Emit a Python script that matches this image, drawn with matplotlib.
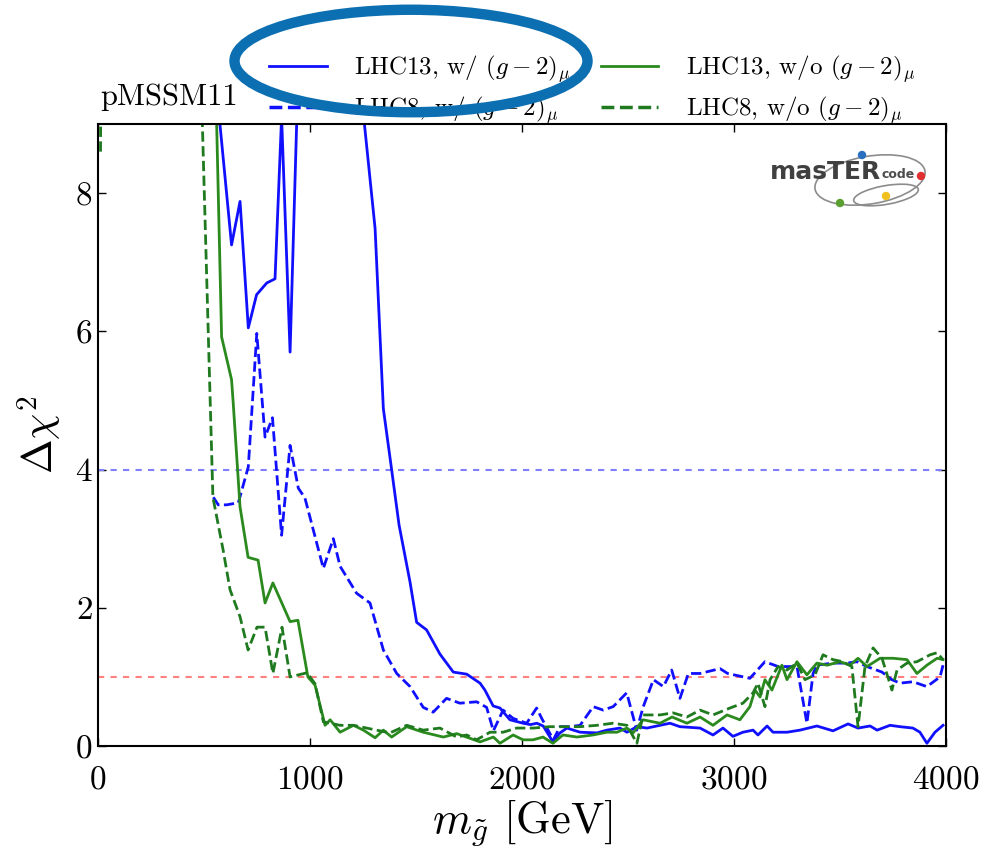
import matplotlib
matplotlib.use("Agg")
import matplotlib.pyplot as plt
from matplotlib.lines import Line2D
from matplotlib.patches import Ellipse

plt.rcParams.update({
    "font.family": "serif",
    "font.serif": ["cmr10", "DejaVu Serif"],
    "mathtext.fontset": "cm",
    "axes.formatter.use_mathtext": True,
    "axes.unicode_minus": False,
})

# gluino mass [GeV] and Delta chi^2 for each scan
mass_13_g2 = [520, 560, 630, 670, 709, 748, 796, 835, 866, 906, 937, 960, 1100, 1230,
              1307, 1346, 1385, 1420, 1472, 1503, 1550, 1613, 1676, 1739, 1802, 1825,
              1864, 1896, 1943, 2005, 2040, 2070, 2100, 2146, 2179, 2212, 2274, 2354,
              2400, 2462, 2495, 2542, 2590, 2651, 2698, 2745, 2840, 2901, 2948, 2995,
              3042, 3090, 3113, 3156, 3184, 3250, 3311, 3391, 3467, 3538, 3585, 3642,
              3675, 3736, 3783, 3844, 3877, 3910, 3948, 3986]
chi2_13_g2 = [25, 9.48, 7.25, 7.88, 6.05, 6.53, 6.7, 6.76, 9.1, 5.7, 9.0, 15, 15, 9.8,
              7.49, 4.88, 4.0, 3.2, 2.37, 1.79, 1.68, 1.33, 1.07, 1.04, 0.91, 0.81,
              0.58, 0.55, 0.38, 0.33, 0.31, 0.33, 0.29, 0.06, 0.19, 0.26, 0.2, 0.19,
              0.23, 0.26, 0.2, 0.28, 0.26, 0.30, 0.33, 0.28, 0.26, 0.16, 0.26, 0.14,
              0.2, 0.23, 0.16, 0.29, 0.2, 0.2, 0.23, 0.29, 0.22, 0.32, 0.26, 0.29,
              0.23, 0.30, 0.28, 0.26, 0.2, 0.04, 0.2, 0.30]

mass_8_g2 = [544, 567, 607, 662, 709, 749, 788, 823, 866, 906, 945, 976, 1063, 1110,
             1142, 1220, 1283, 1346, 1409, 1472, 1534, 1581, 1644, 1707, 1786, 1833,
             1865, 1911, 1958, 2022, 2069, 2093, 2148, 2179, 2226, 2274, 2336, 2383,
             2430, 2494, 2541, 2572, 2620, 2667, 2706, 2745, 2785, 2840, 2934, 2970,
             3075, 3146, 3208, 3297, 3344, 3373, 3391, 3467, 3533, 3580, 3627, 3698,
             3745, 3783, 3844, 3910, 3972, 3990]
chi2_8_g2 = [3.6, 3.49, 3.49, 3.52, 4.04, 5.97, 4.47, 4.75, 3.05, 4.35, 3.73, 3.59, 2.57,
             3.0, 2.6, 2.21, 2.07, 1.39, 1.05, 0.86, 0.56, 0.49, 0.69, 0.62, 0.64, 0.56,
             0.22, 0.52, 0.40, 0.33, 0.55, 0.4, 0.09, 0.28, 0.28, 0.3, 0.57, 0.52, 0.57,
             0.77, 0.23, 0.57, 0.96, 0.86, 1.1, 0.69, 1.05, 1.05, 1.12, 1.05, 0.98,
             1.22, 1.15, 1.15, 0.33, 1.05, 1.17, 1.2, 1.2, 1.22, 1.15, 1.07, 0.96,
             0.91, 0.93, 0.86, 1.0, 1.22]

mass_13_nog2 = [540, 583, 630, 637, 670, 708, 755, 788, 825, 906, 943, 990, 1024, 1071,
                1095, 1142, 1205, 1252, 1307, 1346, 1385, 1456, 1534, 1629, 1692, 1802,
                1865, 1896, 1958, 2005, 2052, 2099, 2146, 2193, 2259, 2335, 2400, 2448,
                2495, 2524, 2571, 2651, 2708, 2778, 2840, 2901, 2967, 3028, 3075, 3099,
                3123, 3146, 3179, 3226, 3250, 3297, 3344, 3391, 3439, 3500, 3547, 3585,
                3627, 3689, 3750, 3816, 3863, 3910, 3958, 3986]
chi2_13_nog2 = [11.6, 5.92, 5.3, 5.0, 3.46, 2.73, 2.69, 2.07, 2.36, 1.8, 1.82, 1.0, 0.88,
                0.3, 0.38, 0.2, 0.3, 0.23, 0.12, 0.23, 0.13, 0.28, 0.2, 0.13, 0.18, 0.06,
                0.13, 0.04, 0.16, 0.09, 0.09, 0.13, 0.04, 0.16, 0.13, 0.16, 0.2, 0.2,
                0.26, 0.19, 0.38, 0.33, 0.42, 0.33, 0.42, 0.3, 0.45, 0.38, 0.57, 0.81,
                0.71, 0.96, 0.81, 1.17, 0.96, 1.22, 1.03, 1.2, 1.17, 1.22, 1.17, 1.27,
                1.15, 1.27, 1.27, 1.25, 1.05, 1.17, 1.27, 1.25]

mass_8_nog2 = [12, 16, 400, 460, 542, 590, 623, 670, 708, 750, 788, 825, 868, 906, 986,
               1024, 1063, 1142, 1205, 1314, 1377, 1456, 1534, 1613, 1692, 1739, 1786,
               1849, 1911, 1975, 2052, 2132, 2212, 2274, 2354, 2429, 2495, 2542, 2571,
               2651, 2712, 2778, 2840, 2901, 2981, 3042, 3090, 3113, 3146, 3170, 3208,
               3250, 3297, 3335, 3382, 3420, 3467, 3514, 3556, 3585, 3618, 3656, 3698,
               3745, 3769, 3816, 3863, 3925, 3958, 3986]
chi2_8_nog2 = [8.6, 14, 14, 12.5, 3.6, 2.84, 2.26, 1.87, 1.39, 1.72, 1.72, 1.05, 1.72,
               1.0, 1.06, 0.9, 0.35, 0.3, 0.3, 0.23, 0.19, 0.3, 0.23, 0.26, 0.13, 0.16,
               0.09, 0.2, 0.2, 0.26, 0.26, 0.28, 0.28, 0.28, 0.3, 0.33, 0.3, 0.04, 0.45,
               0.45, 0.48, 0.42, 0.52, 0.45, 0.55, 0.62, 0.77, 0.91, 0.57, 0.96, 1.15,
               1.1, 1.2, 0.96, 1.03, 1.32, 1.25, 1.22, 1.15, 0.28, 1.15, 1.42, 1.27,
               0.81, 1.1, 1.2, 1.22, 1.32, 1.35, 1.25]

labels = [r"LHC13, w/ $(g-2)_\mu$", r"LHC8, w/ $(g-2)_\mu$",
          r"LHC13, w/o $(g-2)_\mu$", r"LHC8, w/o $(g-2)_\mu$"]

BLUE = "#1010ff"
GREEN = "#2a8a1e"
GREEN_D = "#1f7a1f"

fig = plt.figure(figsize=(10, 8.47), dpi=100)
ax = fig.add_axes([0.098, 0.1192, 0.848, 0.7344])

ax.axhline(4, color="#8080ff", lw=1.5, ls=(0, (3, 3)))
ax.axhline(1, color="#ff8080", lw=1.5, ls=(0, (3, 3)))

ax.plot(mass_8_g2, chi2_8_g2, "--", color=BLUE, lw=2)
ax.plot(mass_13_g2, chi2_13_g2, "-", color=BLUE, lw=2)
ax.plot(mass_13_nog2, chi2_13_nog2, "-", color=GREEN, lw=2)
ax.plot(mass_8_nog2, chi2_8_nog2, "--", color=GREEN_D, lw=2)

ax.set_xlim(0, 4000)
ax.set_ylim(0, 9)
ax.set_xticks([0, 1000, 2000, 3000, 4000])
ax.set_yticks([0, 2, 4, 6, 8])
ax.tick_params(direction="in", top=True, right=True, length=6, width=1, labelsize=24)
ax.tick_params(axis="x", pad=14)
ax.tick_params(axis="y", pad=4)
for s in ax.spines.values():
    s.set_linewidth(1.5)
ax.set_xlabel(r"$m_{\tilde{g}}$ [GeV]", fontsize=32, labelpad=2)
ax.set_ylabel(r"$\Delta\chi^2$", fontsize=30, labelpad=8)

handles = [Line2D([], [], color=BLUE, lw=2, ls="-"),
           Line2D([], [], color=BLUE, lw=2.5, ls="--"),
           Line2D([], [], color=GREEN, lw=2, ls="-"),
           Line2D([], [], color=GREEN_D, lw=2.5, ls="--")]
fig.legend(handles, labels, ncol=2, loc="upper left", bbox_to_anchor=(0.269, 0.937),
           frameon=False, fontsize=18, handlelength=2.3, handletextpad=1.1,
           columnspacing=1.2, labelspacing=0.38, borderpad=0, borderaxespad=0)

fig.text(0.100, 0.876, "pMSSM11", fontsize=22, ha="left", va="baseline")


# MasterCode logo, drawn with simple shapes (pixel positions -> figure fraction)
def fx(px):
    return px / 1000.0


def fy(py):
    return 1 - py / 847.0


tf = fig.transFigure
fig.add_artist(Ellipse((fx(870), fy(180)), 0.112, 0.056, angle=12, fill=False,
                       ec="0.55", lw=1.2, transform=tf))
fig.add_artist(Ellipse((fx(886), fy(195)), 0.066, 0.022, angle=12, fill=False,
                       ec="0.55", lw=1.2, transform=tf))
fig.text(fx(770), fy(179), "masTER", fontsize=18, fontweight="bold", color="0.25",
         family="DejaVu Sans", ha="left", va="baseline")
fig.text(fx(881), fy(178), "code", fontsize=9, fontweight="bold", color="0.3",
         family="DejaVu Sans", ha="left", va="baseline")
for (px, py), c in zip([(862, 155), (921, 176), (840, 203), (886, 196)],
                       ["#2a6fc0", "#e03030", "#5aa030", "#f0c020"]):
    fig.add_artist(Ellipse((fx(px), fy(py)), 0.007, 0.0083, color=c, transform=tf))

# highlight ellipse drawn over the legend
fig.add_artist(Ellipse((0.411, 0.928), 0.353, 0.121, fill=False, ec="#0b6fb2", lw=7.5,
                       transform=tf, zorder=10))

fig.savefig("out.png", dpi=100)
